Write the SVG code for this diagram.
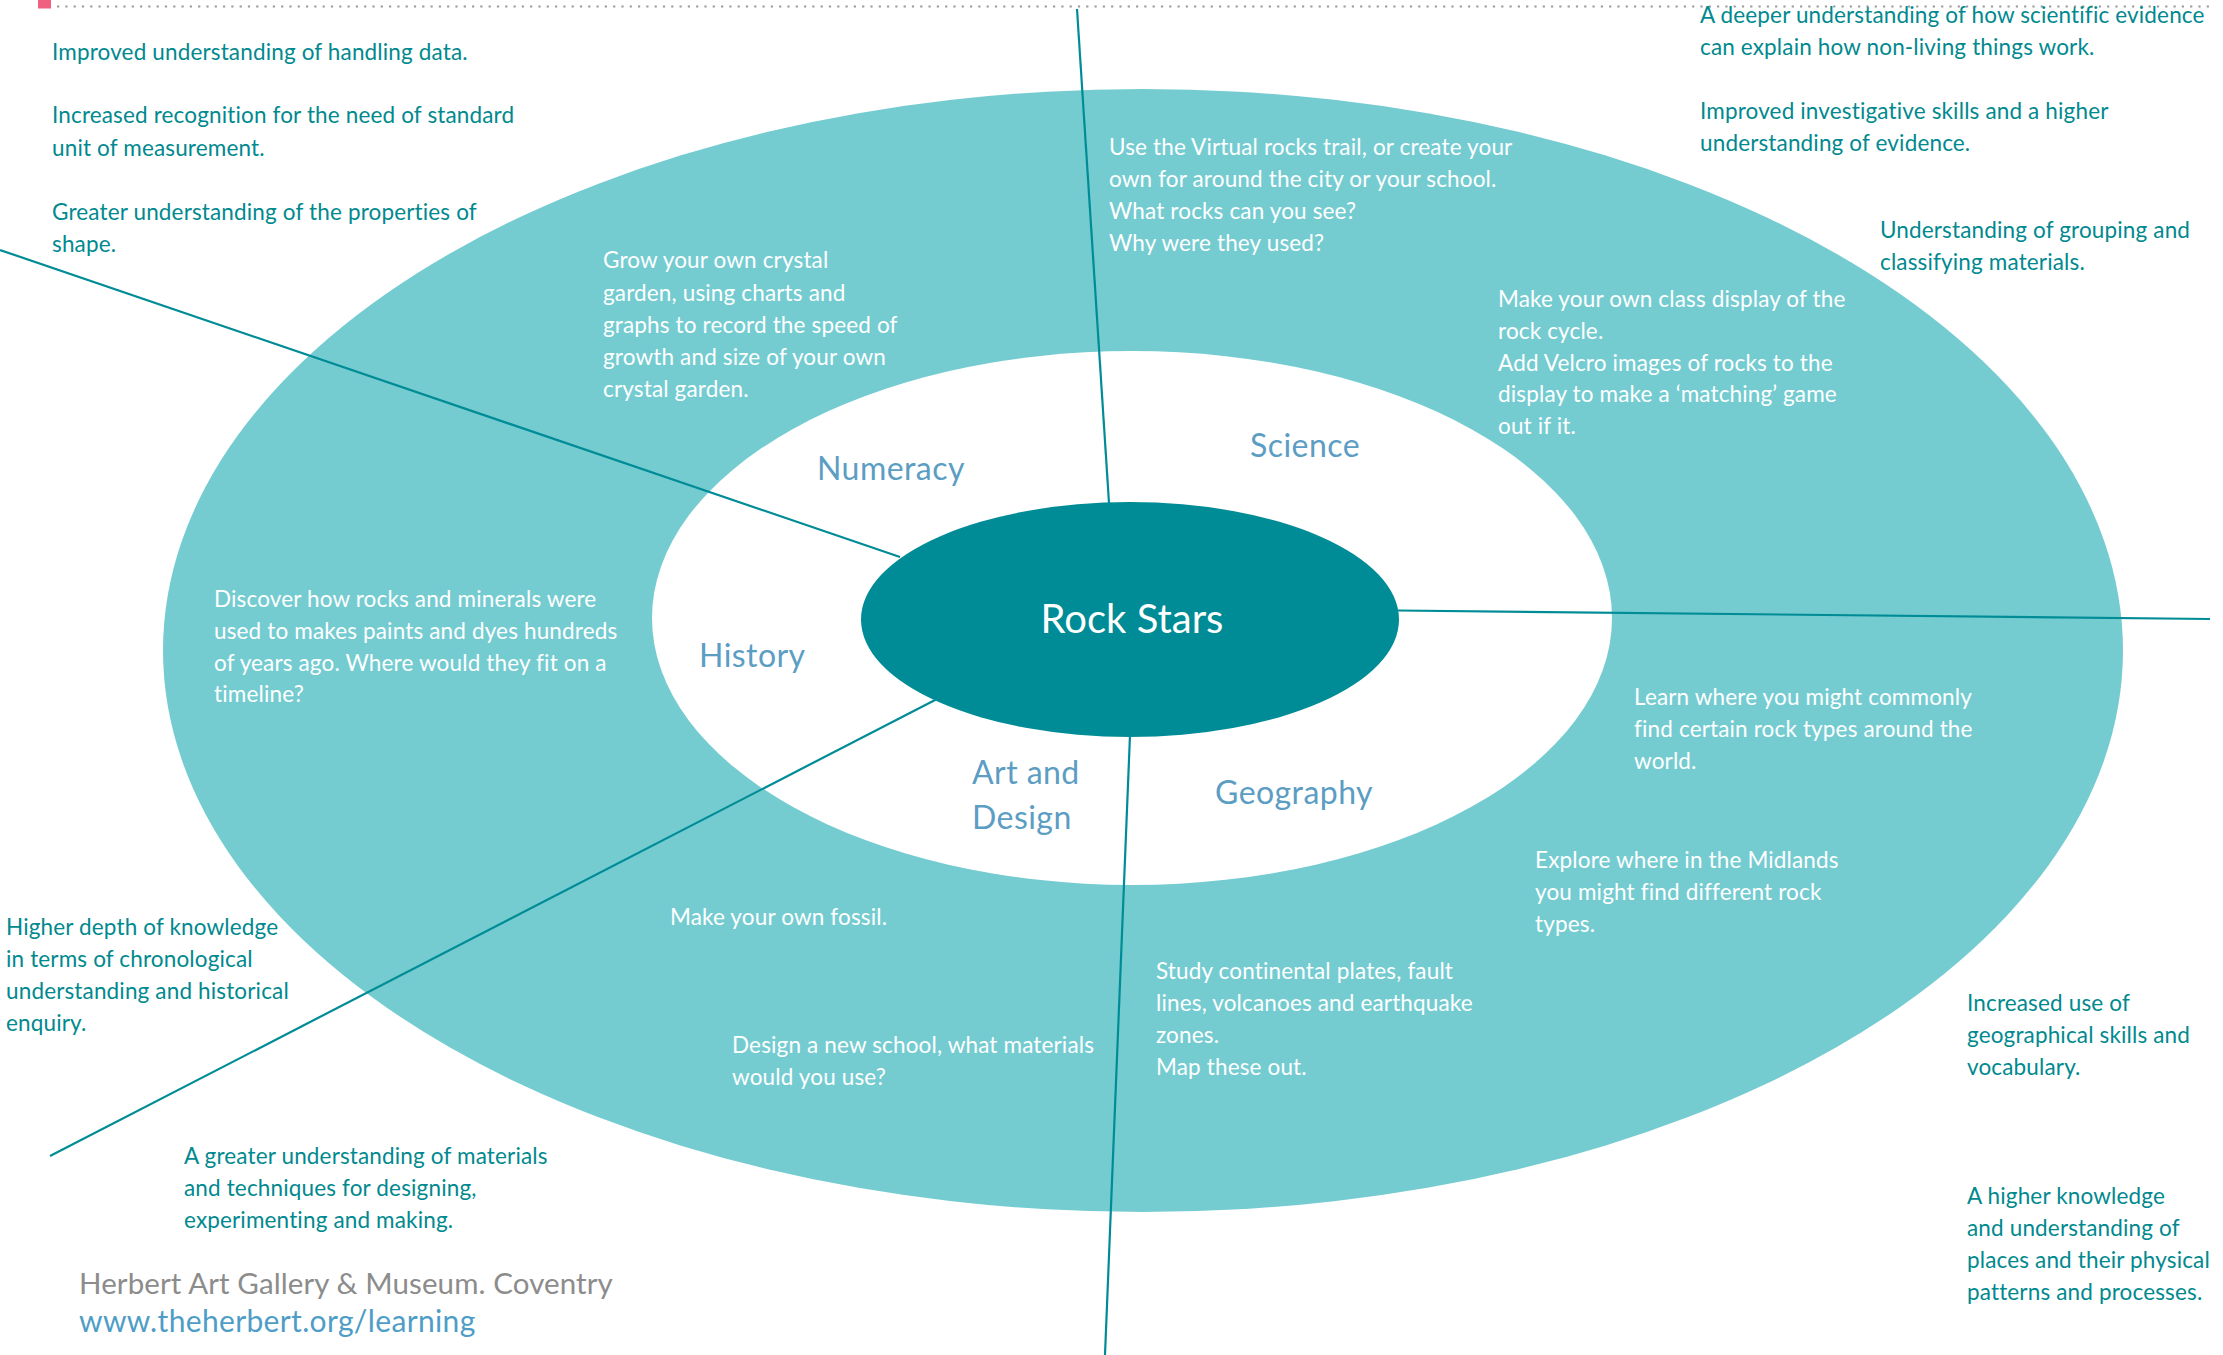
<svg xmlns="http://www.w3.org/2000/svg" width="2223" height="1355" viewBox="0 0 2223 1355">
  <style>
    text { font-family: Lato, "Open Sans", "Liberation Sans", sans-serif; }
    .out { fill: #00898F; font-size: 22.5px; letter-spacing: 0.15px; }
    .act { fill: #FFFFFF; font-size: 22.5px; letter-spacing: 0.15px; }
    .subj { fill: #5B9DC3; font-size: 32px; letter-spacing: 0.45px; }
    .hub { fill: #FFFFFF; font-size: 40px; }
    .credit { fill: #8C8C8C; font-size: 29.5px; letter-spacing: 0.1px; }
    .url { fill: #4E9DC6; font-size: 30px; letter-spacing: 0.35px; }
    .link { stroke: #008C96; stroke-width: 2.2; fill: none; }
  </style>

  <!-- page header rule -->
  <rect x="38" y="0" width="13" height="8.5" fill="#F0617F"/>
  <line x1="57" y1="6.5" x2="2210" y2="6.5" stroke="#9A9A9A" stroke-width="2.2" stroke-dasharray="2.2 6.1"/>

  <!-- rings -->
  <g id="ring-outer">
    <ellipse cx="1143" cy="650.5" rx="980" ry="561.5" fill="#74CCD1"/>
  </g>
  <g id="ring-inner">
    <ellipse cx="1132" cy="618" rx="480" ry="267" fill="#FFFFFF"/>
  </g>

  <!-- connectors -->
  <g id="connectors">
    <line class="link" x1="0" y1="250" x2="900" y2="557"/>
    <line class="link" x1="1077" y1="9" x2="1109" y2="503"/>
    <line class="link" x1="1398" y1="610.5" x2="2210" y2="619"/>
    <line class="link" x1="937" y1="699" x2="50" y2="1156"/>
    <line class="link" x1="1130" y1="735" x2="1105" y2="1355"/>
  </g>

  <!-- hub -->
  <g id="hub">
    <ellipse cx="1130" cy="619.5" rx="269" ry="117.5" fill="#008C96"/>
    <text class="hub" x="1132" y="633" text-anchor="middle">Rock Stars</text>
  </g>

  <!-- subject labels -->
  <g id="subject-numeracy"><text class="subj" x="817" y="480">Numeracy</text></g>
  <g id="subject-science"><text class="subj" x="1250" y="457">Science</text></g>
  <g id="subject-history"><text class="subj" x="699" y="667">History</text></g>
  <g id="subject-art"><text class="subj" x="972" y="784">Art and</text><text class="subj" x="972" y="829">Design</text></g>
  <g id="subject-geography"><text class="subj" x="1215" y="804">Geography</text></g>

  <!-- activities (inside ring) -->
  <g id="activity-numeracy">
    <text class="act" x="603" y="268">Grow your own crystal</text>
    <text class="act" x="603" y="300.5">garden, using charts and</text>
    <text class="act" x="603" y="333">graphs to record the speed of</text>
    <text class="act" x="603" y="365">growth and size of your own</text>
    <text class="act" x="603" y="397">crystal garden.</text>
  </g>
  <g id="activity-science-trail">
    <text class="act" x="1109" y="155">Use the Virtual rocks trail, or create your</text>
    <text class="act" x="1109" y="187">own for around the city or your school.</text>
    <text class="act" x="1109" y="218.5">What rocks can you see?</text>
    <text class="act" x="1109" y="250.5">Why were they used?</text>
  </g>
  <g id="activity-science-display">
    <text class="act" x="1498" y="307">Make your own class display of the</text>
    <text class="act" x="1498" y="338.5">rock cycle.</text>
    <text class="act" x="1498" y="370.5">Add Velcro images of rocks to the</text>
    <text class="act" x="1498" y="402">display to make a ‘matching’ game</text>
    <text class="act" x="1498" y="433.5">out if it.</text>
  </g>
  <g id="activity-history">
    <text class="act" x="214" y="607">Discover how rocks and minerals were</text>
    <text class="act" x="214" y="638.5">used to makes paints and dyes hundreds</text>
    <text class="act" x="214" y="670.5">of years ago. Where would they fit on a</text>
    <text class="act" x="214" y="702">timeline?</text>
  </g>
  <g id="activity-geography-world">
    <text class="act" x="1634" y="705">Learn where you might commonly</text>
    <text class="act" x="1634" y="737">find certain rock types around the</text>
    <text class="act" x="1634" y="769">world.</text>
  </g>
  <g id="activity-geography-midlands">
    <text class="act" x="1535" y="867.5">Explore where in the Midlands</text>
    <text class="act" x="1535" y="899.5">you might find different rock</text>
    <text class="act" x="1535" y="931.5">types.</text>
  </g>
  <g id="activity-geography-plates">
    <text class="act" x="1156" y="979">Study continental plates, fault</text>
    <text class="act" x="1156" y="1011">lines, volcanoes and earthquake</text>
    <text class="act" x="1156" y="1043">zones.</text>
    <text class="act" x="1156" y="1075">Map these out.</text>
  </g>
  <g id="activity-art-fossil">
    <text class="act" x="670" y="925">Make your own fossil.</text>
  </g>
  <g id="activity-art-school">
    <text class="act" x="732" y="1053">Design a new school, what materials</text>
    <text class="act" x="732" y="1085">would you use?</text>
  </g>

  <!-- outcomes (outside ring) -->
  <g id="outcome-numeracy">
    <text class="out" x="52" y="60">Improved understanding of handling data.</text>
    <text class="out" x="52" y="123">Increased recognition for the need of standard</text>
    <text class="out" x="52" y="155.5">unit of measurement.</text>
    <text class="out" x="52" y="220">Greater understanding of the properties of</text>
    <text class="out" x="52" y="252">shape.</text>
  </g>
  <g id="outcome-science">
    <text class="out" x="1700" y="23">A deeper understanding of how scientific evidence</text>
    <text class="out" x="1700" y="55">can explain how non-living things work.</text>
    <text class="out" x="1700" y="119">Improved investigative skills and a higher</text>
    <text class="out" x="1700" y="151">understanding of evidence.</text>
    <text class="out" x="1880" y="238">Understanding of grouping and</text>
    <text class="out" x="1880" y="270">classifying materials.</text>
  </g>
  <g id="outcome-history">
    <text class="out" x="6" y="935">Higher depth of knowledge</text>
    <text class="out" x="6" y="967">in terms of chronological</text>
    <text class="out" x="6" y="999">understanding and historical</text>
    <text class="out" x="6" y="1031">enquiry.</text>
  </g>
  <g id="outcome-art">
    <text class="out" x="184" y="1164">A greater understanding of materials</text>
    <text class="out" x="184" y="1196">and techniques for designing,</text>
    <text class="out" x="184" y="1228">experimenting and making.</text>
  </g>
  <g id="outcome-geography">
    <text class="out" x="1967" y="1011">Increased use of</text>
    <text class="out" x="1967" y="1043">geographical skills and</text>
    <text class="out" x="1967" y="1075">vocabulary.</text>
    <text class="out" x="1967" y="1204">A higher knowledge</text>
    <text class="out" x="1967" y="1236">and understanding of</text>
    <text class="out" x="1967" y="1268">places and their physical</text>
    <text class="out" x="1967" y="1300">patterns and processes.</text>
  </g>

  <!-- credit -->
  <g id="credit">
    <text class="credit" x="79" y="1294">Herbert Art Gallery &amp; Museum. Coventry</text>
    <text class="url" x="79" y="1332">www.theherbert.org/learning</text>
  </g>
</svg>
